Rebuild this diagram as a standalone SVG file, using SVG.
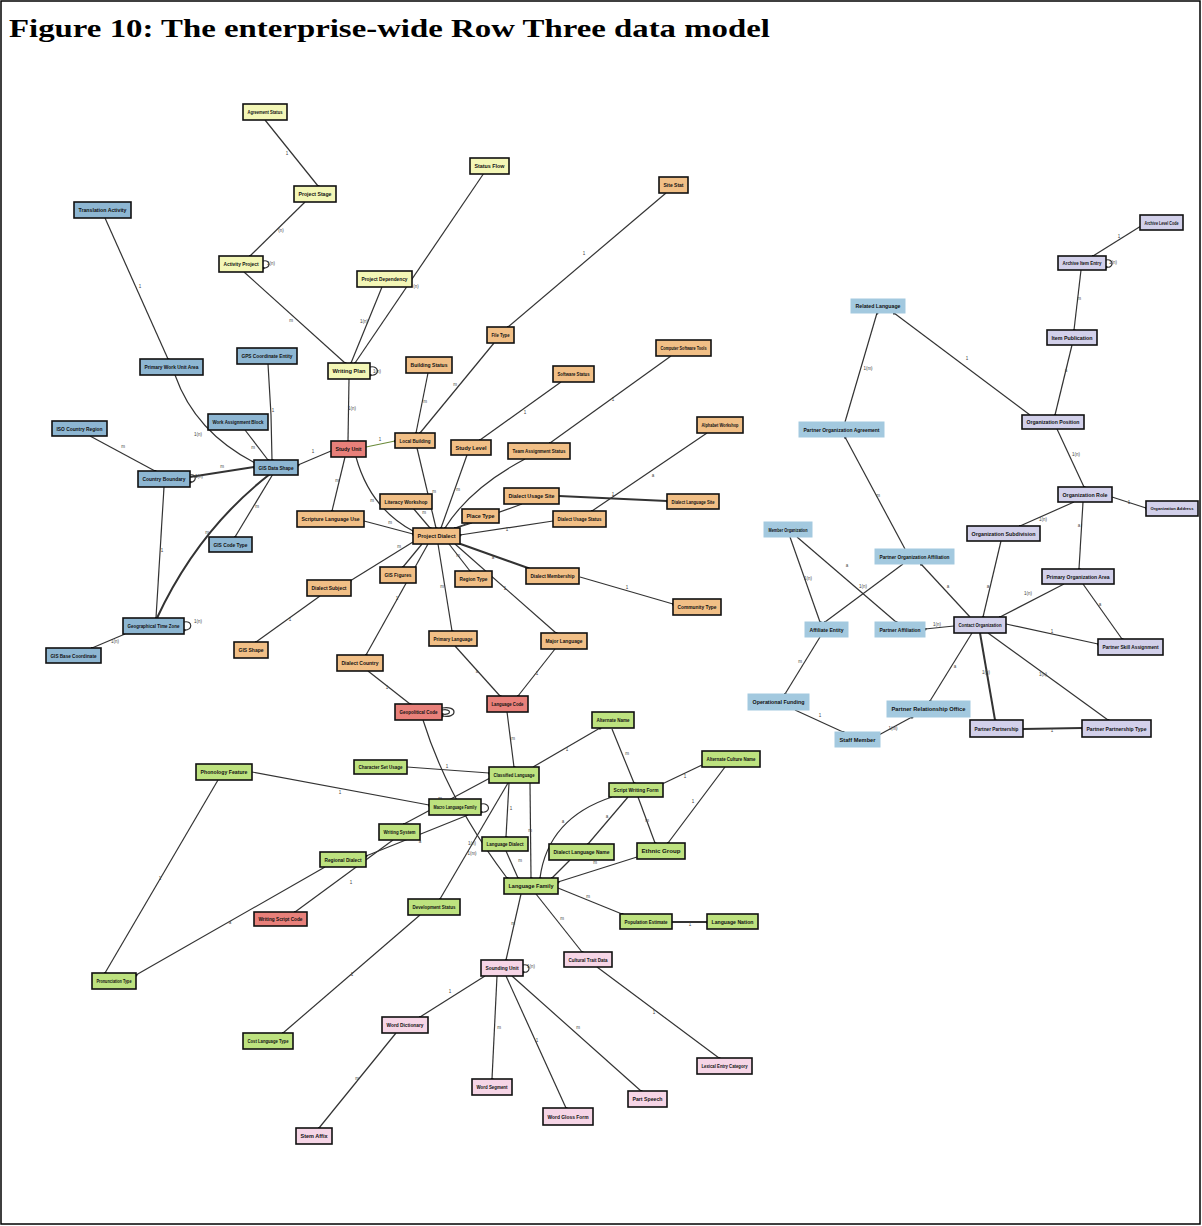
<svg xmlns="http://www.w3.org/2000/svg" width="1202" height="1226" viewBox="0 0 1202 1226">
<style>
  .frame{fill:#fff;stroke:#000;stroke-width:1.5}
  .title{font-family:"Liberation Serif","Times New Roman",serif;font-weight:bold;font-size:26px;fill:#000}
  .node rect{stroke:#111;stroke-width:1.6}
  .node text{font-family:"Liberation Sans",Arial,sans-serif;font-weight:bold;font-size:5.5px;fill:#111;text-anchor:middle}
  .node text.sm{font-size:4.4px}
  .y rect{fill:#f3f6b6}
  .o rect{fill:#f1bf86}
  .r rect{fill:#e8807a}
  .b rect{fill:#8db6d2}
  .lb rect{fill:#a3c9df;stroke:#a3c9df;stroke-width:1}
  .p rect{fill:#d2d0ea}
  .g rect{fill:#bde27f}
  .k rect{fill:#f6d5e6}
  .edges path{fill:none;stroke:#333;stroke-width:1.2;marker-end:url(#dot)}
  .edges path.thick{stroke-width:2}
  .edges text{font-family:"Liberation Sans",Arial,sans-serif;font-size:4.5px;fill:#444;text-anchor:middle}
</style>
<defs>
  <marker id="dot" viewBox="0 0 4 4" refX="2" refY="2" markerWidth="3" markerHeight="3" markerUnits="userSpaceOnUse">
    <circle cx="2" cy="2" r="2" fill="#111"/>
  </marker>
</defs>

<rect class="frame" x="1" y="1" width="1199" height="1223"/>
<text class="title" x="9" y="37" textLength="761" lengthAdjust="spacingAndGlyphs">Figure 10: The enterprise-wide Row Three data model</text>

<!-- connectors -->
<g id="connectors" class="edges">
  <!-- project (yellow) -->
  <path d="M265 120 L318 186"/><text x="287" y="155">1</text>
  <path d="M305 202 L250 256"/><text x="281" y="232">(n)</text>
  <path d="M244 272 L345 363"/><text x="291" y="322">m</text>
  <path d="M382 287 L351 363"/><text x="364" y="323">1(n)</text>
  <path d="M484 173 L355 363"/><text x="416" y="288">(n)</text>
  <path d="M349 379 L348 441"/><text x="352" y="410">1(n)</text>
  <path d="M370 367 C380 365 380 377 370 375"/><text x="377" y="373">1(n)</text>
  <path d="M263 261 C271 259 271 269 263 268"/><text x="271" y="265">1(n)</text>

  <!-- dialect (orange) -->
  <path d="M666 193 L508 327"/><text x="584" y="255">1</text>
  <path d="M494 343 L420 433"/><text x="455" y="386">m</text>
  <path d="M428 373 L416 433"/><text x="425" y="403">m</text>
  <path d="M561 382 L480 440"/><text x="525" y="414">1</text>
  <path d="M671 356 L550 443"/><text x="613" y="401">1</text>
  <path d="M707 433 L592 511"/><text x="653" y="477">a</text>
  <path class="thick" d="M559 496 L667 501"/><text x="613" y="496">1</text>
  <path d="M366 447 L395 441" style="stroke:#6a8a3a"/><text x="380" y="441">1</text>
  <path d="M331 451 L298 465"/><text x="313" y="453">1</text>
  <path d="M345 457 L332 511"/><text x="337" y="482">m</text>
  <path d="M356 457 Q370 508 413 531"/><text x="372" y="502">m</text>
  <path d="M417 448 L436 528"/><text x="434" y="493">m</text>
  <path d="M467 455 L441 528"/><text x="458" y="491">m</text>
  <path d="M525 459 Q470 488 445 528"/>
  <path d="M413 508 L430 528"/><text x="424" y="514">m</text>
  <path d="M364 521 L413 534"/><text x="390" y="524">m</text>
  <path d="M522 504 L455 528"/>
  <path d="M472 523 L456 528"/>
  <path d="M553 521 L460 535"/><text x="507" y="531">1</text>
  <path d="M422 544 L403 567"/>
  <path d="M449 544 L470 571"/><text x="458" y="557">m</text>
  <path class="thick" d="M455 542 L528 568"/><text x="493" y="559">a</text>
  <path d="M413 542 L350 581"/><text x="399" y="548">m</text>
  <path d="M428 544 L366 655"/><text x="397" y="600">1</text>
  <path d="M438 544 L452 631"/><text x="442" y="588">m</text>
  <path d="M455 544 L556 633"/><text x="505" y="590">1</text>
  <path d="M320 596 L256 642"/><text x="290" y="621">1</text>
  <path d="M580 577 L673 604"/><text x="627" y="589">1</text>
  <path d="M368 671 L410 704"/><text x="387" y="689">1</text>
  <path d="M455 646 L500 696"/><text x="477" y="673">a</text>
  <path d="M555 649 L518 696"/><text x="537" y="675">1</text>
  <path d="M442 708 C458 705 458 719 442 716"/><path d="M442 710 C452 708 452 716 442 714"/>

  <!-- geography (blue) -->
  <path d="M105 218 L168 359"/><text x="140" y="288">1</text>
  <path d="M175 375 Q195 432 255 463"/><text x="198" y="436">1(n)</text>
  <path d="M268 364 L271 415 L272 460"/><text x="273" y="412">1</text>
  <path d="M245 430 L268 460"/><text x="253" y="449">m</text>
  <path d="M90 436 L155 471"/><text x="123" y="448">m</text>
  <path class="thick" d="M190 477 L254 467"/><text x="222" y="468">m</text>
  <path d="M164 487 L156 618"/><text x="162" y="552">1</text>
  <path class="thick" d="M270 474 Q198 530 157 618"/><text x="207" y="534">m</text>
  <path d="M273 474 L235 537"/><text x="257" y="508">m</text>
  <path d="M125 634 L92 648"/><text x="115" y="643">1(n)</text>
  <path d="M184 622 C193 620 193 631 184 630"/><text x="198" y="623">1(n)</text>
  <path d="M190 475 C197 473 197 483 190 482"/><text x="199" y="478">1(n)</text>

  <!-- language (red / green / pink) -->
  <path d="M423 720 Q448 800 507 878"/><text x="472" y="855">1(m)</text>
  <path d="M507 712 L514 767"/><text x="513" y="740">m</text>
  <path d="M533 767 L600 728"/><text x="567" y="751">1</text>
  <path d="M407 767 L489 773"/><text x="447" y="768">1</text>
  <path d="M252 772 L429 805"/><text x="340" y="794">1</text>
  <path d="M218 780 L105 973"/><text x="160" y="880">1</text>
  <path d="M481 804 C491 802 491 814 481 812"/>
  <path d="M490 778 L404 824"/><text x="440" y="800">m</text>
  <path d="M468 815 L366 856"/><text x="420" y="843">a</text>
  <path d="M393 840 L295 912"/><text x="351" y="884">1</text>
  <path d="M325 867 L136 975"/><text x="230" y="924">a</text>
  <path d="M508 783 L440 899"/><text x="472" y="845">1(n)</text>
  <path d="M420 915 L283 1033"/><text x="352" y="976">1</text>
  <path d="M509 783 L506 837"/><text x="511" y="810">1</text>
  <path d="M530 783 L531 878"/><text x="530" y="832">m</text>
  <path d="M506 851 L518 878"/><text x="520" y="862">m</text>
  <path d="M612 729 L634 783"/><text x="627" y="755">m</text>
  <path d="M612 797 Q548 818 540 878"/><text x="563" y="823">a</text>
  <path d="M628 797 L588 844"/><text x="607" y="818">a</text>
  <path d="M638 797 L655 843"/><text x="647" y="822">m</text>
  <path d="M702 765 L660 785"/><text x="685" y="778">1</text>
  <path d="M725 767 L668 843"/><text x="693" y="803">1</text>
  <path d="M637 857 L558 882"/><text x="595" y="864">m</text>
  <path d="M570 860 L552 878"/>
  <path d="M558 888 L622 914"/><text x="588" y="898">m</text>
  <path class="thick" d="M672 922 L707 922"/><text x="690" y="926">1</text>
  <path d="M521 894 L506 960"/><text x="513" y="925">m</text>
  <path d="M536 894 L582 952"/><text x="562" y="920">m</text>
  <path d="M485 976 L420 1017"/><text x="450" y="993">1</text>
  <path d="M497 976 L492 1079"/><text x="499" y="1029">m</text>
  <path d="M506 976 L566 1108"/><text x="537" y="1042">1</text>
  <path d="M512 976 L641 1091"/><text x="578" y="1029">m</text>
  <path d="M597 967 L719 1058"/><text x="654" y="1014">1</text>
  <path d="M396 1033 L319 1128"/><text x="357" y="1080">m</text>
  <path d="M523 965 C531 963 531 974 523 972"/><text x="531" y="968">1(n)</text>

  <!-- organisation (light blue / purple) -->
  <path d="M1141 226 L1093 256"/><text x="1119" y="238">1</text>
  <path d="M1106 260 C1114 258 1114 269 1106 267"/><text x="1113" y="264">1(n)</text>
  <path d="M1081 270 L1074 330"/><text x="1079" y="300">m</text>
  <path d="M1072 345 L1055 415"/><text x="1066" y="372">a</text>
  <path d="M1030 415 L894 313"/><text x="967" y="360">1</text>
  <path d="M1057 429 L1084 487"/><text x="1076" y="456">1(n)</text>
  <path d="M1112 497 L1146 508"/><text x="1129" y="504">1</text>
  <path d="M1074 502 L1020 526"/><text x="1043" y="521">1(n)</text>
  <path d="M1083 502 L1079 569"/><text x="1079" y="527">a</text>
  <path d="M1001 541 L983 617"/><text x="988" y="588">a</text>
  <path d="M1064 584 L1000 617"/><text x="1028" y="595">1(n)</text>
  <path d="M1083 584 L1122 639"/><text x="1100" y="606">a</text>
  <path d="M1006 624 L1098 644"/><text x="1052" y="633">1</text>
  <path d="M988 633 L1108 720"/><text x="1043" y="676">1(n)</text>
  <path class="thick" d="M980 633 L995 720"/><text x="986" y="674">1(n)</text>
  <path class="thick" d="M1023 729 L1082 728"/><text x="1052" y="732">1</text>
  <path d="M972 633 L930 701"/><text x="955" y="668">a</text>
  <path d="M954 626 L925 629"/><text x="937" y="626">1(n)</text>
  <path d="M970 617 L921 564"/><text x="948" y="588">a</text>
  <path d="M797 537 L896 622"/><text x="847" y="567">a</text>
  <path d="M790 537 L820 622"/><text x="808" y="580">1(n)</text>
  <path d="M903 564 L825 622"/><text x="863" y="588">1(n)</text>
  <path d="M905 549 L845 437"/><text x="878" y="497">m</text>
  <path d="M845 422 L877 313"/><text x="868" y="370">1(m)</text>
  <path d="M820 637 L785 694"/><text x="800" y="663">m</text>
  <path d="M795 710 L843 732"/><text x="820" y="717">1</text>
  <path d="M877 736 L912 717"/><text x="893" y="730">1(m)</text>
</g>

<!-- project -->
<g id="n-agreement" class="node y"><rect x="243" y="104" width="44" height="16"/><text x="265" y="114" textLength="35" lengthAdjust="spacingAndGlyphs">Agreement Status</text></g>
<g id="n-stage" class="node y"><rect x="294" y="186" width="42" height="16"/><text x="315" y="196" textLength="33" lengthAdjust="spacingAndGlyphs">Project Stage</text></g>
<g id="n-activity" class="node y"><rect x="219" y="256" width="44" height="16"/><text x="241" y="266" textLength="35" lengthAdjust="spacingAndGlyphs">Activity Project</text></g>
<g id="n-statusflow" class="node y"><rect x="470" y="158" width="39" height="16"/><text x="489.5" y="168" textLength="30" lengthAdjust="spacingAndGlyphs">Status Flow</text></g>
<g id="n-dependency" class="node y"><rect x="357" y="271" width="55" height="16"/><text x="384.5" y="281" textLength="46" lengthAdjust="spacingAndGlyphs">Project Dependency</text></g>
<g id="n-writing" class="node y"><rect x="328" y="363" width="42" height="16"/><text x="349" y="373" textLength="33" lengthAdjust="spacingAndGlyphs">Writing Plan</text></g>

<!-- dialect -->
<g id="n-sitestat" class="node o"><rect x="659" y="177" width="29" height="16"/><text x="673.5" y="187" textLength="20" lengthAdjust="spacingAndGlyphs">Site Stat</text></g>
<g id="n-filetype" class="node o"><rect x="487" y="327" width="27" height="16"/><text x="500.5" y="337" textLength="18" lengthAdjust="spacingAndGlyphs">File Type</text></g>
<g id="n-building" class="node o"><rect x="406" y="357" width="46" height="16"/><text x="429" y="367" textLength="37" lengthAdjust="spacingAndGlyphs">Building Status</text></g>
<g id="n-software" class="node o"><rect x="553" y="366" width="41" height="16"/><text x="573.5" y="376" textLength="32" lengthAdjust="spacingAndGlyphs">Software Status</text></g>
<g id="n-tools" class="node o"><rect x="656" y="340" width="55" height="16"/><text x="683.5" y="350" textLength="46" lengthAdjust="spacingAndGlyphs">Computer Software Tools</text></g>
<g id="n-alphabet" class="node o"><rect x="697" y="417" width="46" height="16"/><text x="720" y="427" textLength="37" lengthAdjust="spacingAndGlyphs">Alphabet Workshop</text></g>
<g id="n-localbuilding" class="node o"><rect x="395" y="433" width="40" height="15"/><text x="415" y="442.5" textLength="31" lengthAdjust="spacingAndGlyphs">Local Building</text></g>
<g id="n-studylevel" class="node o"><rect x="451" y="440" width="40" height="15"/><text x="471" y="449.5" textLength="31" lengthAdjust="spacingAndGlyphs">Study Level</text></g>
<g id="n-teamstatus" class="node o"><rect x="508" y="443" width="62" height="16"/><text x="539" y="453" textLength="53" lengthAdjust="spacingAndGlyphs">Team Assignment Status</text></g>
<g id="n-scripture" class="node o"><rect x="297" y="511" width="67" height="16"/><text x="330.5" y="521" textLength="58" lengthAdjust="spacingAndGlyphs">Scripture Language Use</text></g>
<g id="n-literacy" class="node o"><rect x="380" y="494" width="52" height="15"/><text x="406" y="503.5" textLength="43" lengthAdjust="spacingAndGlyphs">Literacy Workshop</text></g>
<g id="n-usagesite" class="node o"><rect x="504" y="488" width="55" height="16"/><text x="531.5" y="498" textLength="46" lengthAdjust="spacingAndGlyphs">Dialect Usage Site</text></g>
<g id="n-langsite" class="node o"><rect x="667" y="494" width="52" height="15"/><text x="693" y="503.5" textLength="43" lengthAdjust="spacingAndGlyphs">Dialect Language Site</text></g>
<g id="n-placetype" class="node o"><rect x="462" y="509" width="37" height="14"/><text x="480.5" y="518" textLength="28" lengthAdjust="spacingAndGlyphs">Place Type</text></g>
<g id="n-usagestatus" class="node o"><rect x="553" y="511" width="53" height="16"/><text x="579.5" y="521" textLength="44" lengthAdjust="spacingAndGlyphs">Dialect Usage Status</text></g>
<g id="n-projectdialect" class="node o"><rect x="413" y="528" width="47" height="16"/><text x="436.5" y="538" textLength="38" lengthAdjust="spacingAndGlyphs">Project Dialect</text></g>
<g id="n-gisfig" class="node o"><rect x="380" y="567" width="36" height="16"/><text x="398" y="577" textLength="27" lengthAdjust="spacingAndGlyphs">GIS Figures</text></g>
<g id="n-regiontype" class="node o"><rect x="455" y="571" width="37" height="16"/><text x="473.5" y="581" textLength="28" lengthAdjust="spacingAndGlyphs">Region Type</text></g>
<g id="n-membership" class="node o"><rect x="526" y="568" width="53" height="16"/><text x="552.5" y="578" textLength="44" lengthAdjust="spacingAndGlyphs">Dialect Membership</text></g>
<g id="n-community" class="node o"><rect x="673" y="599" width="48" height="16"/><text x="697" y="609" textLength="39" lengthAdjust="spacingAndGlyphs">Community Type</text></g>
<g id="n-subject" class="node o"><rect x="307" y="580" width="44" height="16"/><text x="329" y="590" textLength="35" lengthAdjust="spacingAndGlyphs">Dialect Subject</text></g>
<g id="n-gisshape" class="node o"><rect x="234" y="642" width="34" height="16"/><text x="251" y="652" textLength="25" lengthAdjust="spacingAndGlyphs">GIS Shape</text></g>
<g id="n-dcountry" class="node o"><rect x="337" y="655" width="46" height="16"/><text x="360" y="665" textLength="37" lengthAdjust="spacingAndGlyphs">Dialect Country</text></g>
<g id="n-primary" class="node o"><rect x="429" y="631" width="48" height="15"/><text x="453" y="640.5" textLength="39" lengthAdjust="spacingAndGlyphs">Primary Language</text></g>
<g id="n-major" class="node o"><rect x="541" y="633" width="46" height="16"/><text x="564" y="643" textLength="37" lengthAdjust="spacingAndGlyphs">Major Language</text></g>

<!-- shared codes -->
<g id="n-studyunit" class="node r"><rect x="331" y="441" width="35" height="16"/><text x="348.5" y="451" textLength="26" lengthAdjust="spacingAndGlyphs">Study Unit</text></g>
<g id="n-geocode" class="node r"><rect x="395" y="704" width="47" height="16"/><text x="418.5" y="714" textLength="38" lengthAdjust="spacingAndGlyphs">Geopolitical Code</text></g>
<g id="n-langcode" class="node r"><rect x="487" y="696" width="41" height="16"/><text x="507.5" y="706" textLength="32" lengthAdjust="spacingAndGlyphs">Language Code</text></g>
<g id="n-scriptcode" class="node r"><rect x="254" y="912" width="53" height="14"/><text x="280.5" y="921" textLength="44" lengthAdjust="spacingAndGlyphs">Writing Script Code</text></g>

<!-- geography -->
<g id="n-translation" class="node b"><rect x="74" y="202" width="57" height="16"/><text x="102.5" y="212" textLength="48" lengthAdjust="spacingAndGlyphs">Translation Activity</text></g>
<g id="n-workunit" class="node b"><rect x="140" y="359" width="63" height="16"/><text x="171.5" y="369" textLength="54" lengthAdjust="spacingAndGlyphs">Primary Work Unit Area</text></g>
<g id="n-gps" class="node b"><rect x="237" y="348" width="60" height="16"/><text x="267" y="358" textLength="51" lengthAdjust="spacingAndGlyphs">GPS Coordinate Entity</text></g>
<g id="n-block" class="node b"><rect x="208" y="414" width="60" height="16"/><text x="238" y="424" textLength="51" lengthAdjust="spacingAndGlyphs">Work Assignment Block</text></g>
<g id="n-iso" class="node b"><rect x="52" y="421" width="55" height="15"/><text x="79.5" y="430.5" textLength="46" lengthAdjust="spacingAndGlyphs">ISO Country Region</text></g>
<g id="n-gisdata" class="node b"><rect x="254" y="460" width="44" height="15"/><text x="276" y="469.5" textLength="35" lengthAdjust="spacingAndGlyphs">GIS Data Shape</text></g>
<g id="n-boundary" class="node b"><rect x="138" y="471" width="52" height="16"/><text x="164" y="481" textLength="43" lengthAdjust="spacingAndGlyphs">Country Boundary</text></g>
<g id="n-gistype" class="node b"><rect x="209" y="537" width="43" height="15"/><text x="230.5" y="546.5" textLength="34" lengthAdjust="spacingAndGlyphs">GIS Code Type</text></g>
<g id="n-timezone" class="node b"><rect x="123" y="618" width="61" height="16"/><text x="153.5" y="628" textLength="52" lengthAdjust="spacingAndGlyphs">Geographical Time Zone</text></g>
<g id="n-basecoord" class="node b"><rect x="46" y="648" width="55" height="15"/><text x="73.5" y="657.5" textLength="46" lengthAdjust="spacingAndGlyphs">GIS Base Coordinate</text></g>

<!-- partners -->
<g id="n-related" class="node lb"><rect x="851" y="299" width="54" height="14"/><text x="878" y="308" textLength="45" lengthAdjust="spacingAndGlyphs">Related Language</text></g>
<g id="n-agreementorg" class="node lb"><rect x="799" y="422" width="85" height="15"/><text x="841.5" y="431.5" textLength="76" lengthAdjust="spacingAndGlyphs">Partner Organization Agreement</text></g>
<g id="n-member" class="node lb"><rect x="764" y="522" width="48" height="15"/><text x="788" y="531.5" textLength="39" lengthAdjust="spacingAndGlyphs">Member Organization</text></g>
<g id="n-orgaff" class="node lb"><rect x="875" y="549" width="79" height="15"/><text x="914.5" y="558.5" textLength="70" lengthAdjust="spacingAndGlyphs">Partner Organization Affiliation</text></g>
<g id="n-affiliate" class="node lb"><rect x="805" y="622" width="43" height="15"/><text x="826.5" y="631.5" textLength="34" lengthAdjust="spacingAndGlyphs">Affiliate Entity</text></g>
<g id="n-partneraff" class="node lb"><rect x="875" y="622" width="50" height="15"/><text x="900" y="631.5" textLength="41" lengthAdjust="spacingAndGlyphs">Partner Affiliation</text></g>
<g id="n-funding" class="node lb"><rect x="748" y="694" width="61" height="16"/><text x="778.5" y="704" textLength="52" lengthAdjust="spacingAndGlyphs">Operational Funding</text></g>
<g id="n-office" class="node lb"><rect x="887" y="701" width="83" height="16"/><text x="928.5" y="711" textLength="74" lengthAdjust="spacingAndGlyphs">Partner Relationship Office</text></g>
<g id="n-staff" class="node lb"><rect x="835" y="732" width="45" height="15"/><text x="857.5" y="741.5" textLength="36" lengthAdjust="spacingAndGlyphs">Staff Member</text></g>

<!-- organisation -->
<g id="n-archlevel" class="node p"><rect x="1140" y="215" width="43" height="15"/><text x="1161.5" y="224.5" textLength="34" lengthAdjust="spacingAndGlyphs">Archive Level Code</text></g>
<g id="n-archentry" class="node p"><rect x="1058" y="256" width="48" height="14"/><text x="1082" y="265" textLength="39" lengthAdjust="spacingAndGlyphs">Archive Item Entry</text></g>
<g id="n-itempub" class="node p"><rect x="1047" y="330" width="50" height="15"/><text x="1072" y="339.5" textLength="41" lengthAdjust="spacingAndGlyphs">Item Publication</text></g>
<g id="n-orgpos" class="node p"><rect x="1022" y="415" width="62" height="14"/><text x="1053" y="424" textLength="53" lengthAdjust="spacingAndGlyphs">Organization Position</text></g>
<g id="n-orgrole" class="node p"><rect x="1058" y="487" width="54" height="15"/><text x="1085" y="496.5" textLength="45" lengthAdjust="spacingAndGlyphs">Organization Role</text></g>
<g id="n-orgaddr" class="node p"><rect x="1146" y="501" width="52" height="15"/><text class="sm" x="1172" y="510.2" textLength="43" lengthAdjust="spacingAndGlyphs">Organization Address</text></g>
<g id="n-orgsub" class="node p"><rect x="967" y="526" width="73" height="15"/><text x="1003.5" y="535.5" textLength="64" lengthAdjust="spacingAndGlyphs">Organization Subdivision</text></g>
<g id="n-orgarea" class="node p"><rect x="1042" y="569" width="72" height="15"/><text x="1078" y="578.5" textLength="63" lengthAdjust="spacingAndGlyphs">Primary Organization Area</text></g>
<g id="n-skill" class="node p"><rect x="1098" y="639" width="65" height="16"/><text x="1130.5" y="649" textLength="56" lengthAdjust="spacingAndGlyphs">Partner Skill Assignment</text></g>
<g id="n-contact" class="node p"><rect x="954" y="617" width="52" height="16"/><text x="980" y="627" textLength="43" lengthAdjust="spacingAndGlyphs">Contact Organization</text></g>
<g id="n-partnership" class="node p"><rect x="970" y="720" width="53" height="17"/><text x="996.5" y="730.5" textLength="44" lengthAdjust="spacingAndGlyphs">Partner Partnership</text></g>
<g id="n-ptype" class="node p"><rect x="1082" y="720" width="69" height="17"/><text x="1116.5" y="730.5" textLength="60" lengthAdjust="spacingAndGlyphs">Partner Partnership Type</text></g>

<!-- language -->
<g id="n-phonology" class="node g"><rect x="196" y="764" width="56" height="16"/><text x="224" y="774" textLength="47" lengthAdjust="spacingAndGlyphs">Phonology Feature</text></g>
<g id="n-charset" class="node g"><rect x="354" y="760" width="53" height="14"/><text x="380.5" y="769" textLength="44" lengthAdjust="spacingAndGlyphs">Character Set Usage</text></g>
<g id="n-macro" class="node g"><rect x="429" y="799" width="52" height="16"/><text x="455" y="809" textLength="43" lengthAdjust="spacingAndGlyphs">Macro Language Family</text></g>
<g id="n-wsystem" class="node g"><rect x="379" y="824" width="41" height="16"/><text x="399.5" y="834" textLength="32" lengthAdjust="spacingAndGlyphs">Writing System</text></g>
<g id="n-regional" class="node g"><rect x="320" y="852" width="46" height="15"/><text x="343" y="861.5" textLength="37" lengthAdjust="spacingAndGlyphs">Regional Dialect</text></g>
<g id="n-devstatus" class="node g"><rect x="408" y="899" width="52" height="16"/><text x="434" y="909" textLength="43" lengthAdjust="spacingAndGlyphs">Development Status</text></g>
<g id="n-altname" class="node g"><rect x="592" y="712" width="42" height="16"/><text x="613" y="722" textLength="33" lengthAdjust="spacingAndGlyphs">Alternate Name</text></g>
<g id="n-classified" class="node g"><rect x="489" y="767" width="50" height="16"/><text x="514" y="777" textLength="41" lengthAdjust="spacingAndGlyphs">Classified Language</text></g>
<g id="n-altculture" class="node g"><rect x="702" y="751" width="58" height="16"/><text x="731" y="761" textLength="49" lengthAdjust="spacingAndGlyphs">Alternate Culture Name</text></g>
<g id="n-scriptform" class="node g"><rect x="609" y="783" width="54" height="14"/><text x="636" y="792" textLength="45" lengthAdjust="spacingAndGlyphs">Script Writing Form</text></g>
<g id="n-langdialect" class="node g"><rect x="482" y="837" width="46" height="14"/><text x="505" y="846" textLength="37" lengthAdjust="spacingAndGlyphs">Language Dialect</text></g>
<g id="n-dlname" class="node g"><rect x="549" y="844" width="65" height="16"/><text x="581.5" y="854" textLength="56" lengthAdjust="spacingAndGlyphs">Dialect Language Name</text></g>
<g id="n-ethnic" class="node g"><rect x="637" y="843" width="48" height="16"/><text x="661" y="853" textLength="39" lengthAdjust="spacingAndGlyphs">Ethnic Group</text></g>
<g id="n-langfamily" class="node g"><rect x="504" y="878" width="54" height="16"/><text x="531" y="888" textLength="45" lengthAdjust="spacingAndGlyphs">Language Family</text></g>
<g id="n-population" class="node g"><rect x="620" y="914" width="52" height="15"/><text x="646" y="923.5" textLength="43" lengthAdjust="spacingAndGlyphs">Population Estimate</text></g>
<g id="n-nation" class="node g"><rect x="707" y="914" width="51" height="15"/><text x="732.5" y="923.5" textLength="42" lengthAdjust="spacingAndGlyphs">Language Nation</text></g>
<g id="n-pronunciation" class="node g"><rect x="92" y="973" width="44" height="16"/><text x="114" y="983" textLength="35" lengthAdjust="spacingAndGlyphs">Pronunciation Type</text></g>
<g id="n-costtype" class="node g"><rect x="243" y="1033" width="50" height="16"/><text x="268" y="1043" textLength="41" lengthAdjust="spacingAndGlyphs">Cost Language Type</text></g>

<!-- lexicon -->
<g id="n-sounding" class="node k"><rect x="481" y="960" width="42" height="16"/><text x="502" y="970" textLength="33" lengthAdjust="spacingAndGlyphs">Sounding Unit</text></g>
<g id="n-cultural" class="node k"><rect x="564" y="952" width="48" height="15"/><text x="588" y="961.5" textLength="39" lengthAdjust="spacingAndGlyphs">Cultural Trait Data</text></g>
<g id="n-dictionary" class="node k"><rect x="382" y="1017" width="46" height="16"/><text x="405" y="1027" textLength="37" lengthAdjust="spacingAndGlyphs">Word Dictionary</text></g>
<g id="n-segment" class="node k"><rect x="472" y="1079" width="40" height="16"/><text x="492" y="1089" textLength="31" lengthAdjust="spacingAndGlyphs">Word Segment</text></g>
<g id="n-gloss" class="node k"><rect x="543" y="1108" width="50" height="17"/><text x="568" y="1118.5" textLength="41" lengthAdjust="spacingAndGlyphs">Word Gloss Form</text></g>
<g id="n-speech" class="node k"><rect x="628" y="1091" width="39" height="16"/><text x="647.5" y="1101" textLength="30" lengthAdjust="spacingAndGlyphs">Part Speech</text></g>
<g id="n-lexical" class="node k"><rect x="697" y="1058" width="55" height="16"/><text x="724.5" y="1068" textLength="46" lengthAdjust="spacingAndGlyphs">Lexical Entry Category</text></g>
<g id="n-stem" class="node k"><rect x="296" y="1128" width="36" height="16"/><text x="314" y="1138" textLength="27" lengthAdjust="spacingAndGlyphs">Stem Affix</text></g>
</svg>
